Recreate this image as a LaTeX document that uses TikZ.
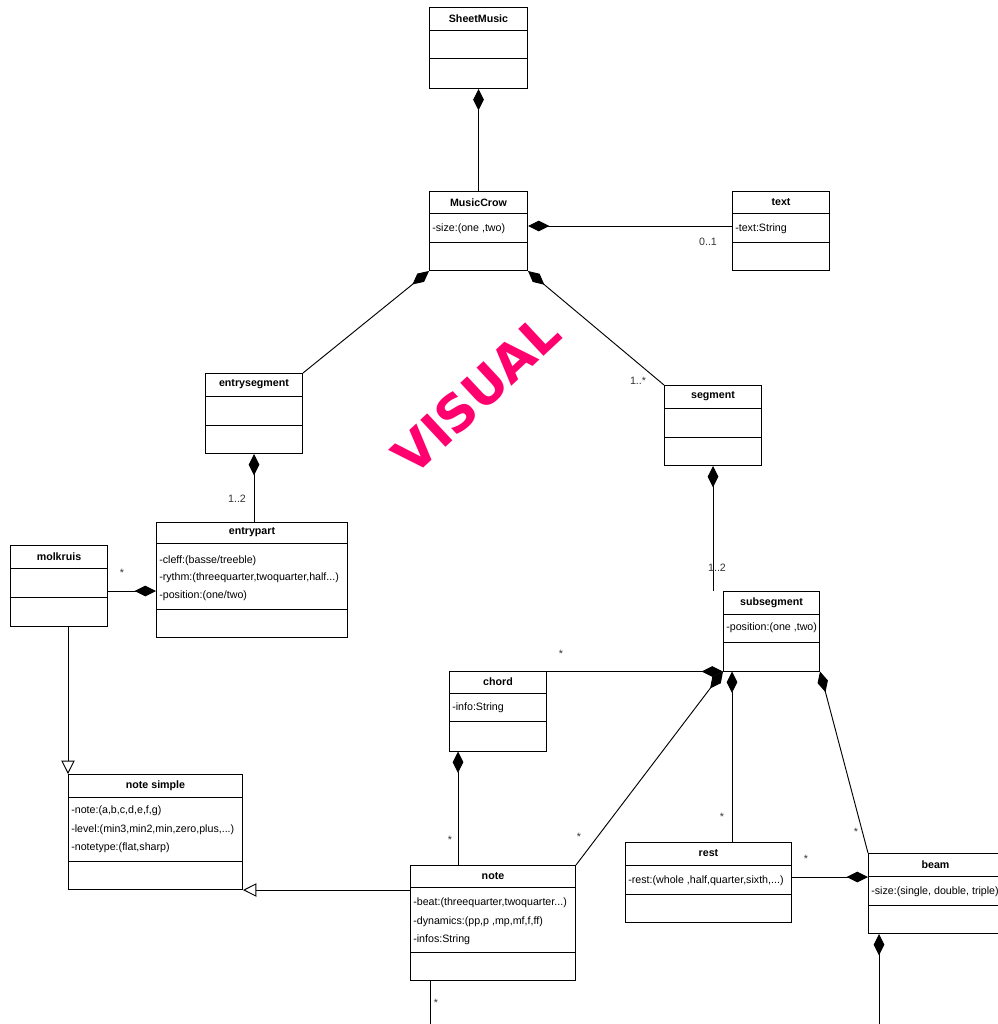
\documentclass[tikz,border=0pt]{standalone}
\usepackage{fontspec}
\setmainfont{Liberation Sans}
\newfontfamily\stampfont{DejaVu Sans}
\usetikzlibrary{arrows.meta,calc}

\definecolor{stampink}{RGB}{255,0,110}

% class box: name, x, y, width, height, first separator, second separator, title
\newcommand\umlclass[8]{%
  \node[classbox, minimum width=#4*0.75pt, minimum height=#5*0.75pt] (#1) at (#2,#3) {};
  \draw[sepline] ($(#1.north west)+(0,#6)$) -- ($(#1.north east)+(0,#6)$);
  \draw[sepline] ($(#1.north west)+(0,#7)$) -- ($(#1.north east)+(0,#7)$);
  \node[titletext] (#1-title) at ($(#1.north)+(0,#6/2)$) {#8};
}
% attribute line: class, key, offset from top, text
\newcommand\umlattr[4]{%
  \node[attrtext] (#1-#2) at ($(#1.north west)+(3,#3)$) {#4};
}

\begin{document}
\begin{tikzpicture}[x=0.75pt,y=-0.75pt,
  classbox/.style={draw=black, line width=0.75pt, inner sep=0pt, anchor=north west, fill=white},
  sepline/.style={draw=black, line width=0.75pt},
  titletext/.style={font=\fontsize{8}{9}\selectfont\bfseries, inner sep=0pt},
  attrtext/.style={font=\fontsize{8}{9}\selectfont, inner sep=0pt, anchor=west},
  mult/.style={font=\fontsize{8}{9}\selectfont, text=black!80, inner sep=0pt},
  assoc/.style={draw=black, line width=0.7pt},
  comp/.style={assoc, {Diamond[length=16pt,width=8pt]}-},
  gen/.style={assoc, -{Triangle[open,length=10pt,width=10pt,fill=white]}}
]
\useasboundingbox (0,0) rectangle (998,1024);
\clip (0,0) rectangle (998,1024);
\fill[white] (0,0) rectangle (998,1024);

% classes
\umlclass{sheet}{429}{7}{98}{81}{24}{52}{SheetMusic}
\umlclass{music}{429}{191}{98}{79}{22.5}{51.5}{MusicCrow}
\umlattr{music}{a}{38}{-size:(one ,two)}
\umlclass{text}{732}{191}{97}{79}{22.5}{51.5}{text}
\umlattr{text}{a}{37.5}{-text:String}
\umlclass{entryseg}{205}{373}{97}{80}{23}{52}{entrysegment}
\umlclass{segment}{664}{385}{97}{80}{23}{52}{segment}
\umlclass{entrypart}{156}{522}{191}{115}{21}{87}{entrypart}
\umlattr{entrypart}{a}{38.5}{-cleff:(basse/treeble)}
\umlattr{entrypart}{b}{56}{-rythm:(threequarter,twoquarter,half...)}
\umlattr{entrypart}{c}{74}{-position:(one/two)}
\umlclass{molkruis}{10}{545}{97}{81}{23}{52}{molkruis}
\umlclass{subseg}{723}{591}{96}{79.5}{23}{51}{subsegment}
\umlattr{subseg}{a}{37}{-position:(one ,two)}
\umlclass{chord}{449}{670.5}{97}{80}{23}{51}{chord}
\umlattr{chord}{a}{37.5}{-info:String}
\umlclass{nsimple}{68}{774}{174}{115}{23}{87}{note simple}
\umlattr{nsimple}{a}{37}{-note:(a,b,c,d,e,f,g)}
\umlattr{nsimple}{b}{56}{-level:(min3,min2,min,zero,plus,...)}
\umlattr{nsimple}{c}{74}{-notetype:(flat,sharp)}
\umlclass{note}{410}{865}{165}{115}{22}{87}{note}
\umlattr{note}{a}{38}{-beat:(threequarter,twoquarter...)}
\umlattr{note}{b}{56.5}{-dynamics:(pp,p ,mp,mf,f,ff)}
\umlattr{note}{c}{74.5}{-infos:String}
\umlclass{rest}{625}{842}{166}{80}{23}{52}{rest}
\umlattr{rest}{a}{39}{-rest:(whole ,half,quarter,sixth,...)}
\umlclass{beam}{868}{853}{134}{80}{23}{52}{beam}
\umlattr{beam}{a}{39}{-size:(single, double, triple)}

% compositions and generalisations
\draw[comp] (sheet.south) -- (music.north);
\draw[comp] ($(music.north east)+(0,35)$) -- ($(text.north west)+(0,35)$);
\node[mult] (m-text) at (708,242) {0..1};
\draw[comp] (music.south west) -- (entryseg.north east);
\draw[comp] (music.south east) -- (segment.north west);
\node[mult] (m-seg) at (638,381) {1..*};
\draw[comp] (entryseg.south) -- (entryseg.south |- entrypart.north);
\node[mult] (m-epart) at (237,499) {1..2};
\draw[comp] ($(entrypart.north west)+(0,69)$) -- ($(molkruis.north east)+(0,46)$);
\node[mult] (m-molk) at (122,573) {*};
\draw[comp] (segment.south) -- (segment.south |- subseg.north);
\node[mult] (m-subseg) at (717,568) {1..2};
\draw[gen] (molkruis.south -| nsimple.north west) -- (nsimple.north west);
\draw[gen] (note.west |- nsimple.south east) -- (nsimple.south east);

\coordinate (chordfoot) at ($(chord.south west)+(9,0)$);
\draw[comp] (chordfoot) -- (chordfoot |- note.north);
\node[mult] (m-note1) at (450,840) {*};
\draw[comp] (subseg.south west) -- (chord.north east |- subseg.south west);
\node[mult] (m-chord) at (561,654) {*};
\draw[comp] (subseg.south west) -- (note.north east);
\node[mult] (m-note2) at (579,837) {*};
\coordinate (subfoot) at ($(subseg.south west)+(9,0)$);
\draw[comp] (subfoot) -- (subfoot |- rest.north);
\node[mult] (m-rest1) at (722,817) {*};
\draw[comp] (subseg.south east) -- (beam.north west);
\node[mult] (m-beam) at (856,832) {*};
\draw[comp] ($(beam.north west)+(0,24)$) -- ($(rest.north east)+(0,35)$);
\node[mult] (m-rest2) at (806,859) {*};

\coordinate (noteout) at (430,1040);
\draw[assoc] (noteout |- note.south) -- (noteout);
\node[mult] (m-note3) at (436,1003) {*};
\coordinate (beamout) at (879,1040);
\draw[comp] (beamout |- beam.south) -- (beamout);

% stamp
\node[rotate=43, text=stampink, inner sep=0pt,
      font=\stampfont\bfseries\fontsize{38}{40}\selectfont] (stamp) at (476,394) {VISUAL};
\end{tikzpicture}
\end{document}
